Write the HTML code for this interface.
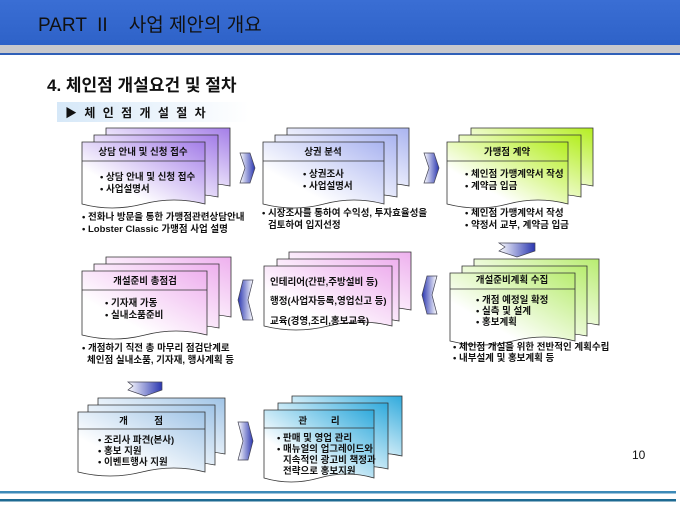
<!DOCTYPE html>
<html><head><meta charset="utf-8">
<style>
html,body{margin:0;padding:0;background:#fff;}
svg{display:block;font-family:"Liberation Sans","Noto Sans CJK KR","NanumGothic",sans-serif;}
text{white-space:pre;}
.t{font-size:9.5px;font-weight:bold;fill:#111;}
.h{font-size:9.5px;font-weight:bold;fill:#111;}
</style></head><body>
<svg width="680" height="510" viewBox="0 0 680 510" xmlns="http://www.w3.org/2000/svg" xml:space="preserve">
<defs>
<linearGradient id="hdr" x1="0" y1="0" x2="0" y2="1"><stop offset="0" stop-color="#3a6ed4"/><stop offset="1" stop-color="#2e62c8"/></linearGradient>
<linearGradient id="sub" x1="0" y1="0" x2="1" y2="0"><stop offset="0" stop-color="#d6e8f8"/><stop offset="1" stop-color="#ffffff"/></linearGradient>
<linearGradient id="gP" x1="0" y1="1" x2="1" y2="0"><stop offset="0.3" stop-color="#fff"/><stop offset="1" stop-color="#a47ee8"/></linearGradient>
<linearGradient id="gL" x1="0" y1="1" x2="1" y2="0"><stop offset="0.3" stop-color="#fff"/><stop offset="1" stop-color="#aab4f0"/></linearGradient>
<linearGradient id="gY" x1="0" y1="1" x2="1" y2="0"><stop offset="0.3" stop-color="#fff"/><stop offset="1" stop-color="#b4ee20"/></linearGradient>
<linearGradient id="gK" x1="0" y1="1" x2="1" y2="0"><stop offset="0.3" stop-color="#fff"/><stop offset="1" stop-color="#eeb0ee"/></linearGradient>
<linearGradient id="gG" x1="0" y1="1" x2="1" y2="0"><stop offset="0.3" stop-color="#fff"/><stop offset="1" stop-color="#b8ec70"/></linearGradient>
<linearGradient id="gB" x1="0" y1="1" x2="1" y2="0"><stop offset="0.3" stop-color="#fff"/><stop offset="1" stop-color="#a0c4e6"/></linearGradient>
<linearGradient id="gC" x1="0" y1="1" x2="1" y2="0"><stop offset="0.3" stop-color="#fff"/><stop offset="1" stop-color="#30aadc"/></linearGradient>
<linearGradient id="arH" x1="0" y1="0" x2="1" y2="0"><stop offset="0" stop-color="#fff"/><stop offset="1" stop-color="#2a36b0"/></linearGradient>
<linearGradient id="arHL" x1="1" y1="0" x2="0" y2="0"><stop offset="0" stop-color="#fff"/><stop offset="1" stop-color="#2a36b0"/></linearGradient>
</defs>

<rect x="0" y="0" width="680" height="45" fill="url(#hdr)"/>
<rect x="0" y="45" width="680" height="8" fill="#c8c8cc"/>
<rect x="0" y="53" width="680" height="2" fill="#3060b8"/>
<text x="38" y="31" font-size="19" fill="#111">PART  II    사업 제안의 개요</text>

<text x="47" y="91" font-size="17" font-weight="bold" fill="#111">4. 체인점 개설요건 및 절차</text>
<rect x="57" y="102" width="192" height="20" fill="url(#sub)"/>
<text x="65" y="117" font-size="12" font-weight="bold" fill="#111" letter-spacing="2">▶ 체 인 점 개 설 절 차</text>

<g stroke="#333" stroke-width="0.8">
<path d="M106,128 h124 v58 q-31,-6 -62,0 t-62,0 z" fill="url(#gP)"/>
<path d="M94,135 h124 v62 q-31,-6 -62,0 t-62,0 z" fill="url(#gP)"/>
<path d="M82,142 h123 v62 q-31,-8 -62,0 t-61,0 z" fill="url(#gP)"/>
<line x1="82" y1="161" x2="205" y2="161"/>
<path d="M287,128 h122 v58 q-30,-6 -61,0 t-61,0 z" fill="url(#gL)"/>
<path d="M275,135 h122 v62 q-30,-6 -61,0 t-61,0 z" fill="url(#gL)"/>
<path d="M263,142 h121 v62 q-30,-8 -60,0 t-61,0 z" fill="url(#gL)"/>
<line x1="263" y1="161" x2="384" y2="161"/>
<path d="M471,128 h122 v58 q-30,-6 -61,0 t-61,0 z" fill="url(#gY)"/>
<path d="M459,135 h122 v62 q-30,-6 -61,0 t-61,0 z" fill="url(#gY)"/>
<path d="M447,142 h121 v62 q-30,-8 -60,0 t-61,0 z" fill="url(#gY)"/>
<line x1="447" y1="161" x2="568" y2="161"/>
<path d="M106,257 h125 v60 q-31,-6 -62,0 t-63,0 z" fill="url(#gK)"/>
<path d="M94,264 h125 v64 q-31,-6 -62,0 t-63,0 z" fill="url(#gK)"/>
<path d="M82,271 h125 v64 q-31,-8 -62,0 t-63,0 z" fill="url(#gK)"/>
<line x1="82" y1="290" x2="207" y2="290"/>
<path d="M289,252 h122 v58 q-30,-6 -61,0 t-61,0 z" fill="url(#gK)"/>
<path d="M277,259 h122 v62 q-30,-6 -61,0 t-61,0 z" fill="url(#gK)"/>
<path d="M264,266 h128 v60 q-32,-8 -64,0 t-64,0 z" fill="url(#gK)"/>
<path d="M474,259 h125 v66 q-31,-6 -62,0 t-63,0 z" fill="url(#gG)"/>
<path d="M462,266 h125 v70 q-31,-6 -62,0 t-63,0 z" fill="url(#gG)"/>
<path d="M450,273 h125 v68 q-31,-8 -62,0 t-63,0 z" fill="url(#gG)"/>
<line x1="450" y1="289" x2="575" y2="289"/>
<path d="M98,398 h127 v56 q-31,-6 -63,0 t-64,0 z" fill="url(#gB)"/>
<path d="M88,405 h127 v60 q-31,-6 -63,0 t-64,0 z" fill="url(#gB)"/>
<path d="M78,412 h127 v60 q-31,-8 -63,0 t-64,0 z" fill="url(#gB)"/>
<line x1="78" y1="429" x2="205" y2="429"/>
<path d="M292,396 h110 v60 q-27,-6 -55,0 t-55,0 z" fill="url(#gC)"/>
<path d="M278,403 h110 v66 q-27,-6 -55,0 t-55,0 z" fill="url(#gC)"/>
<path d="M264,410 h110 v68 q-27,-8 -55,0 t-55,0 z" fill="url(#gC)"/>
<line x1="264" y1="428" x2="374" y2="428"/>
</g>

<g stroke="#445" stroke-width="0.7">
<polygon points="240,153 250,153 255,168 250,183 240,183 245,168" fill="url(#arH)"/>
<polygon points="424,153 434,153 439,168 434,183 424,183 429,168" fill="url(#arH)"/>
<polygon points="499,243 535,243 535,251 517,257 499,251 505,247" fill="url(#arH)"/>
<polygon points="437,276 427,276 422,295 427,314 437,314 432,295" fill="url(#arHL)"/>
<polygon points="253,280 243,280 238,300 243,320 253,320 248,300" fill="url(#arHL)"/>
<polygon points="128,382 162,382 162,390 145,396 128,390 133,386" fill="url(#arH)"/>
<polygon points="238,422 248,422 253,441 248,460 238,460 243,441" fill="url(#arH)"/>
</g>

<text class="h" x="143" y="155" text-anchor="middle">상담 안내 및 신청 접수</text>
<text class="t" x="100" y="180">• 상담 안내 및 신청 접수</text>
<text class="t" x="100" y="192">• 사업설명서</text>
<text class="t" x="82" y="220">• 전화나 방문을 통한 가맹점관련상담안내</text>
<text class="t" x="82" y="232">• Lobster Classic 가맹점 사업 설명</text>

<text class="h" x="323" y="155" text-anchor="middle">상권 분석</text>
<text class="t" x="303" y="177">• 상권조사</text>
<text class="t" x="303" y="189">• 사업설명서</text>
<text class="t" x="262" y="216">• 시장조사를 통하여 수익성, 투자효율성을</text>
<text class="t" x="268" y="228">검토하여 입지선정</text>

<text class="h" x="507" y="155" text-anchor="middle">가맹점 계약</text>
<text class="t" x="465" y="177">• 체인점 가맹계약서 작성</text>
<text class="t" x="465" y="189">• 계약금 입금</text>
<text class="t" x="465" y="216">• 체인점 가맹계약서 작성</text>
<text class="t" x="465" y="228">• 약정서 교부, 계약금 입금</text>

<text class="h" x="145" y="284" text-anchor="middle">개설준비 총점검</text>
<text class="t" x="105" y="306">• 기자재 가동</text>
<text class="t" x="105" y="318">• 실내소품준비</text>
<text class="t" x="82" y="351">• 개점하기 직전 총 마무리 점검단계로</text>
<text class="t" x="87" y="363">체인점 실내소품, 기자재, 행사계획 등</text>

<text class="t" x="270" y="285">인테리어(간판,주방설비 등)</text>
<text class="t" x="270" y="304">행정(사업자등록,영업신고 등)</text>
<text class="t" x="270" y="324">교육(경영,조리,홍보교육)</text>

<text class="h" x="512" y="283" text-anchor="middle">개설준비계획 수집</text>
<text class="t" x="476" y="303">• 개점 예정일 확정</text>
<text class="t" x="476" y="314">• 실측 및 설계</text>
<text class="t" x="476" y="325">• 홍보계획</text>
<text class="t" x="453" y="350">• 체인점 개설을 위한 전반적인 계획수립</text>
<text class="t" x="453" y="361">• 내부설계 및 홍보계획 등</text>

<text class="h" x="141" y="424" text-anchor="middle">개          점</text>
<text class="t" x="98" y="443">• 조리사 파견(본사)</text>
<text class="t" x="98" y="454">• 홍보 지원</text>
<text class="t" x="98" y="465">• 이벤트행사 지원</text>

<text class="h" x="319" y="424" text-anchor="middle">관         리</text>
<text class="t" x="277" y="441">• 판매 및 영업 관리</text>
<text class="t" x="277" y="452">• 매뉴얼의 업그레이드와</text>
<text class="t" x="283" y="463">지속적인 광고비 책정과</text>
<text class="t" x="283" y="474">전략으로 홍보지원</text>

<text x="632" y="459" font-size="12" fill="#111">10</text>

<rect x="0" y="491" width="676" height="2.5" fill="#3c8ab8"/>
<rect x="0" y="499" width="676" height="2.5" fill="#1e6a92"/>
</svg>
</body></html>
